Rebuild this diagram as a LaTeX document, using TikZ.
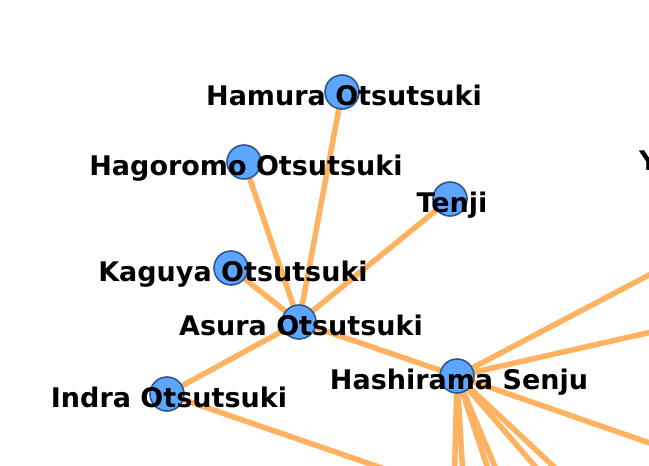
\documentclass[tikz,border=0pt]{standalone}
\usepackage{fontspec}
\setmainfont{DejaVu Sans}
\usetikzlibrary{backgrounds}
\definecolor{edgeorange}{RGB}{255,179,96}
\definecolor{nodeblue}{RGB}{92,166,255}
\definecolor{rimblue}{RGB}{46,88,140}

\begin{document}
\begin{tikzpicture}[x=1pt,y=-1pt,
    person/.style={circle,draw=rimblue,line width=1.6pt,fill=nodeblue,
      minimum size=34pt,inner sep=0pt},
    who/.style={font=\fontsize{27}{30}\selectfont\bfseries,
      inner sep=0pt,xshift=2pt,yshift=-7pt},
    tie/.style={draw=edgeorange,line width=5.5pt}]
    \useasboundingbox (0,0) rectangle (649,466);
    \clip (0,0) rectangle (649,466);
    \node [person] (Hm) at (342,92) {};
    \node [person] (Hg) at (244,162) {};
    \node [person] (Tj) at (450,199) {};
    \node [person] (Kg) at (231,268) {};
    \node [person] (As) at (299,322) {};
    \node [person] (In) at (167,394) {};
    \node [person] (Hs) at (457,376) {};
    % ends of the ties that leave the frame
    \coordinate (r1) at (687,255);
    \coordinate (r2) at (687,324);
    \coordinate (r3) at (687,456);
    \coordinate (d1) at (454,493);
    \coordinate (d2) at (464,493);
    \coordinate (d3) at (496,493);
    \coordinate (d4) at (506,493);
    \coordinate (d5) at (558,493);
    \coordinate (d6) at (582,493);
    \coordinate (d7) at (440,488);
    \begin{pgfonlayer}{background}
      \draw [tie] (Hm.center) -- (As.center);
      \draw [tie] (Hg.center) -- (As.center);
      \draw [tie] (Tj.center) -- (As.center);
      \draw [tie] (Kg.center) -- (As.center);
      \draw [tie] (In.center) -- (As.center);
      \draw [tie] (As.center) -- (Hs.center);
      \draw [tie] (In.center) -- (d7);
      \foreach \e in {r1,r2,r3,d1,d2,d3,d4,d5,d6}
        \draw [tie] (Hs.center) -- (\e);
    \end{pgfonlayer}
    \node [who] (LHm) at (Hm) {\strut Hamura Otsutsuki};
    \node [who] (LHg) at (Hg) {\strut Hagoromo Otsutsuki};
    \node [who] (LTj) at (Tj) {\strut Tenji};
    \node [who] (LKg) at (Kg) {\strut Kaguya Otsutsuki};
    \node [who] (LAs) at (As) {\strut Asura Otsutsuki};
    \node [who] (LIn) at (In) {\strut Indra Otsutsuki};
    \node [who] (LHs) at (Hs) {\strut Hashirama Senju};
    \node [who,anchor=west] (LY) at (637,157) {\strut Y};
\end{tikzpicture}
\end{document}
